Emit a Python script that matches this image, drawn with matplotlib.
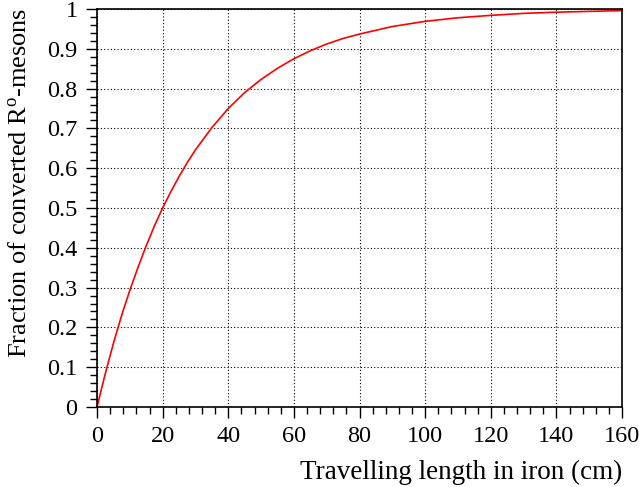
import matplotlib
matplotlib.use('Agg')
import matplotlib.pyplot as plt
from matplotlib.ticker import MultipleLocator

# Values
length_cm = [0, 2.5, 5, 7.5, 10, 12.5, 15, 17.5, 20, 22.5, 25, 27.5, 30, 35, 40, 45, 50,
             55, 60, 65, 70, 75, 80, 90, 100, 110, 120, 130, 140, 150, 160]
fraction = [0, 0.083, 0.16, 0.23, 0.293, 0.351, 0.405, 0.455, 0.50, 0.541, 0.579,
            0.614, 0.646, 0.702, 0.750, 0.790, 0.823, 0.851, 0.875, 0.895, 0.912,
            0.926, 0.937, 0.956, 0.969, 0.978, 0.984, 0.989, 0.992, 0.994, 0.996]

plt.rcParams['font.family'] = ['Liberation Serif', 'DejaVu Serif']
plt.rcParams['mathtext.fontset'] = 'custom'
plt.rcParams['mathtext.rm'] = 'Liberation Serif'
plt.rcParams['mathtext.it'] = 'Liberation Serif'

fig = plt.figure(figsize=(6.39, 4.87), dpi=100)
ax = fig.add_axes([97 / 639, 1 - 407 / 487, (622 - 97) / 639, (407 - 9) / 487])

ax.plot(length_cm, fraction, color='red', lw=1.2)

ax.set_xlim(0, 160)
ax.set_ylim(0, 1)
ax.xaxis.set_major_locator(MultipleLocator(20))
ax.xaxis.set_minor_locator(MultipleLocator(4))
ax.yaxis.set_major_locator(MultipleLocator(0.1))
ax.yaxis.set_minor_locator(MultipleLocator(0.02))
ax.set_yticks([0, 0.1, 0.2, 0.3, 0.4, 0.5, 0.6, 0.7, 0.8, 0.9, 1.0])
ax.set_yticklabels(['0', '0.1', '0.2', '0.3', '0.4', '0.5', '0.6', '0.7', '0.8', '0.9', '1'])

ax.tick_params(which='major', direction='out', length=8, width=1, labelsize=17.5, pad=6)
ax.tick_params(which='minor', direction='out', length=5, width=1)
ax.tick_params(top=False, right=False)

ax.grid(True, which='major', color='black', linestyle=(0, (1, 2)), linewidth=0.8)
for s in ax.spines.values():
    s.set_linewidth(1.2)

ax.set_ylabel(r'Fraction of converted R$^{\mathrm{o}}$-mesons', fontsize=19, labelpad=10)
ax.yaxis.set_label_coords(-0.125, 0.563)
ax.set_xlabel('Travelling length in iron (cm)', fontsize=19.5, loc='right', labelpad=9)

fig.savefig('out.png', dpi=100)
